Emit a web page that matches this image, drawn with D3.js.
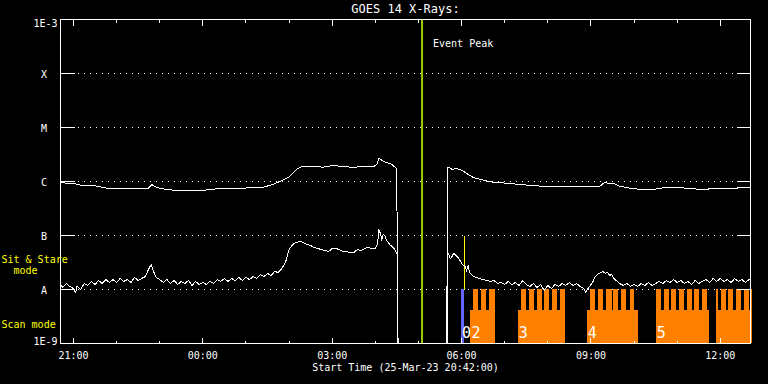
<!DOCTYPE html>
<html><head><meta charset="utf-8">
<script src="https://cdn.jsdelivr.net/npm/d3@7"></script>
<style>html,body{margin:0;padding:0;background:#000;} svg{display:block}</style>
</head><body><svg id="c" width="768" height="384"></svg>
<script>
// ---------------- data ----------------
const chartTitle = "GOES 14 X-Rays:";
const xAxisTitle = "Start Time (25-Mar-23 20:42:00)";
const startTime = "20:42", endTime = "12:42";   // 25-Mar-23 20:42 -> 26-Mar-23 12:42 UT
const yTickValues = [1e-9, 1e-8, 1e-7, 1e-6, 1e-5, 1e-4, 1e-3];
const yTickLabels = ["1E-9", "A", "B", "C", "M", "X", "1E-3"];
const xMajorTicks = ["21:00", "00:00", "03:00", "06:00", "09:00", "12:00"];

// GOES long channel (1-8 A), flux in units of 1e-6 W/m^2
const longUnit = 1e-6;
const longTimes = ["20:42","21:02","21:13","21:30","21:41","21:47","22:26","22:44","22:49","22:56",
  "23:10","23:26","23:46","00:10","00:20","00:52","01:24","01:38","01:47","02:01",
  "02:11","02:18","02:33","02:47","03:01","03:15","03:29","03:43","03:58","04:02",
  "04:05","04:12","04:23","04:26","04:30","04:31","05:40","05:41","05:43","05:47",
  "05:51","05:58","06:05","06:16","06:30","06:44","07:03","07:21","07:39","08:03",
  "08:35","09:12","09:19","09:26","09:31","09:40","09:54","10:12","10:26","10:40",
  "10:59","11:13","11:36","11:50","12:23","12:24","12:41"];
const longFlux = [0.95,0.91,0.84,0.83,0.78,0.75,0.73,0.74,0.88,0.77,
  0.71,0.68,0.68,0.70,0.74,0.75,0.78,0.89,1.00,1.24,
  1.69,1.90,1.92,1.84,1.98,1.90,1.82,1.92,1.90,2.07,
  2.67,2.35,2.07,1.90,1.74,0.0001,0.0001,1.79,1.82,1.67,
  1.74,1.67,1.47,1.19,1.06,0.97,0.93,0.88,0.84,0.80,
  0.80,0.81,0.96,0.92,0.93,0.82,0.75,0.71,0.71,0.76,
  0.78,0.75,0.71,0.74,0.74,0.77,0.77];

// GOES short channel (0.5-4 A), flux in units of 1e-8 W/m^2
const shortUnit = 1e-8;
const shortTimes = [
  "20:42","20:45","20:50","20:55","21:00","21:03","21:05","21:10","21:15","21:20",
  "21:25","21:30","21:35","21:40","21:45","21:50","21:55","22:00","22:05","22:10",
  "22:15","22:20","22:25","22:30","22:35","22:40","22:43","22:48","22:52","22:55",
  "23:00","23:05","23:10","23:15","23:20","23:25","23:30","23:35","23:40","23:45",
  "23:50","23:55","00:00","00:05","00:10","00:15","00:20","00:25","00:30","00:35",
  "00:40","00:45","00:50","00:55","01:00","01:05","01:10","01:15","01:20","01:25",
  "01:30","01:35","01:40","01:45","01:50","01:55","02:00","02:05","02:10","02:15",
  "02:20","02:25","02:30","02:35","02:40","02:45","02:50","02:55","03:00","03:05",
  "03:10","03:15","03:20","03:25","03:30","03:35","03:40","03:45","03:50","03:55",
  "04:00","04:03","04:05","04:07","04:09","04:11","04:13","04:16","04:20","04:25",
  "04:28","04:30","04:31","04:32","05:39","05:40","05:42","05:44","05:46","05:48",
  "05:50","05:52","05:55","05:58","06:00","06:03","06:05","06:07","06:09","06:11",
  "06:15","06:20","06:25","06:30","06:35","06:40","06:45","06:50","06:55","07:00",
  "07:05","07:10","07:15","07:20","07:25","07:30","07:35","07:40","07:45","07:50",
  "07:55","08:00","08:05","08:10","08:15","08:20","08:25","08:30","08:35","08:40",
  "08:45","08:50","08:53","08:55","09:00","09:03","09:05","09:08","09:11","09:14",
  "09:17","09:20","09:23","09:26","09:29","09:32","09:35","09:40","09:45","09:50",
  "09:55","10:00","10:05","10:10","10:15","10:20","10:25","10:30","10:35","10:40",
  "10:45","10:50","10:55","11:00","11:05","11:10","11:15","11:20","11:25","11:30",
  "11:35","11:40","11:45","11:50","11:55","12:00","12:05","12:10","12:15","12:20",
  "12:25","12:30","12:35","12:40","12:42"];
const shortFlux = [
  1.24,1.09,1.29,1.14,1.04,0.88,1.14,1.00,1.29,1.19,
  1.41,1.24,1.47,1.29,1.53,1.35,1.53,1.35,1.60,1.41,
  1.53,1.35,1.67,1.47,1.60,1.74,2.15,2.90,2.07,1.67,
  1.53,1.35,1.53,1.29,1.47,1.24,1.41,1.29,1.47,1.19,
  1.41,1.24,1.35,1.24,1.41,1.29,1.53,1.41,1.60,1.41,
  1.60,1.47,1.67,1.47,1.67,1.53,1.74,1.60,1.90,1.74,
  1.98,1.82,2.15,2.07,2.45,3.16,5.50,6.81,7.41,7.74,
  7.41,6.81,6.52,5.99,5.74,5.50,5.27,5.05,5.74,5.74,
  5.50,5.05,5.05,4.84,4.84,5.50,5.27,5.74,5.99,5.74,
  5.74,6.81,12.9,10.9,8.43,10.4,10.0,8.08,6.81,5.99,
  5.27,4.64,4.08,0.01,0.01,4.84,4.64,3.75,3.92,4.45,
  4.64,4.26,3.92,3.44,3.03,2.78,2.67,2.25,2.78,2.07,
  1.82,1.67,1.60,1.53,1.47,1.41,1.47,1.29,1.35,1.24,
  1.41,1.24,1.35,1.19,1.47,1.24,1.14,1.29,1.09,1.24,
  0.96,1.19,1.04,1.24,1.14,1.29,1.19,1.35,1.19,1.29,
  1.14,1.04,0.88,1.00,1.24,1.41,1.67,1.82,1.98,2.07,
  2.15,1.98,2.07,1.82,1.90,1.60,1.47,1.29,1.19,1.29,
  1.14,1.24,1.14,1.29,1.19,1.35,1.19,1.29,1.41,1.29,
  1.47,1.35,1.53,1.35,1.47,1.29,1.41,1.24,1.47,1.29,
  1.41,1.53,1.35,1.60,1.41,1.60,1.41,1.53,1.35,1.60,
  1.41,1.53,1.35,1.53,1.47];

// event markers
const eventPeakTime = "05:05";
const eventPeakLabel = "Event Peak";
const flareMarkTime = "06:04";             // short yellow marker, from B to A level
const flareMarkRange = [1e-7, 1e-8];

// observation windows
const blueObs = ["06:00", "06:04"];
const scanBlocks = [["06:13","06:47"],["07:19","08:24"],["08:55","10:06"],["10:31","11:45"],["11:54","12:45"]];
const stareBlocks = [
  ["06:17","06:24"],["06:28","06:35"],["06:39","06:47"],
  ["07:23","07:30"],["07:34","07:41"],["07:45","07:52"],["07:56","08:03"],["08:07","08:13"],["08:17","08:24"],
  ["09:00","09:07"],["09:11","09:18"],["09:22","09:30"],["09:32","09:39"],["09:43","09:50"],["09:55","10:00"],
  ["10:31","10:38"],["10:42","10:49"],["10:52","10:59"],["11:03","11:10"],["11:14","11:21"],["11:24","11:31"],["11:35","11:42"],
  ["11:54","11:57"],["12:01","12:08"],["12:12","12:19"],["12:23","12:30"],["12:33","12:40"],["12:42","12:45"]];
const obsLabelTexts = ["0", "2", "3", "4", "5"];
const obsLabelTimes = ["06:00", "06:13", "07:19", "08:55", "10:31"];
const modeLabels = ["Sit & Stare", "mode", "Scan mode"];
const stareTopFlux = 1e-8, scanTopFlux = 4.1e-9;

// ---------------- drawing ----------------
function toDate(hm) {
  const [h, m] = hm.split(":").map(Number);
  return new Date(Date.UTC(2023, 2, h >= 20 ? 25 : 26, h, m));
}
const svg = d3.select("#c");
svg.append("rect").attr("width", 768).attr("height", 384).attr("fill", "#000");

const L = 60.5, R = 750.5, T = 19.5, B = 343.5;
const x = d3.scaleUtc().domain([toDate(startTime), toDate(endTime)]).range([L, R]);
const y = d3.scaleLog().domain([1e-9, 1e-3]).range([B, T]);
const FONT = "'DejaVu Sans Mono', monospace";
const WHITE = "#fff", YELLOW = "#ffff00", ORANGE = "#ff8000", BLUE = "#6464ff", GREEN = "#99cc00";

// dotted grid lines
const grid = svg.append("g");
yTickValues.slice(1, -1).forEach(v => {
  grid.append("line").attr("x1", L + 17.5).attr("x2", R - 14).attr("y1", y(v)).attr("y2", y(v))
    .attr("stroke", WHITE).attr("stroke-dasharray", "1 5").attr("shape-rendering", "crispEdges");
});

// observation bars
const bars = svg.append("g").attr("shape-rendering", "crispEdges");
bars.selectAll("rect.scan").data(scanBlocks).join("rect")
  .attr("x", d => x(toDate(d[0])) - 0.5).attr("width", d => x(toDate(d[1])) - x(toDate(d[0])))
  .attr("y", y(scanTopFlux) - 0.5).attr("height", B - y(scanTopFlux)).attr("fill", ORANGE);
bars.selectAll("rect.stare").data(stareBlocks).join("rect")
  .attr("x", d => x(toDate(d[0])) - 0.5).attr("width", d => x(toDate(d[1])) - x(toDate(d[0])))
  .attr("y", y(stareTopFlux) - 0.5).attr("height", B - y(stareTopFlux)).attr("fill", ORANGE);
bars.append("rect")
  .attr("x", x(toDate(blueObs[0])) - 0.5).attr("width", x(toDate(blueObs[1])) - x(toDate(blueObs[0])))
  .attr("y", y(stareTopFlux) - 0.5).attr("height", B - y(stareTopFlux)).attr("fill", BLUE);

// event peak + flare marker
svg.append("line").attr("x1", x(toDate(eventPeakTime))).attr("x2", x(toDate(eventPeakTime)))
  .attr("y1", T).attr("y2", B).attr("stroke", GREEN).attr("stroke-width", 2);
svg.append("line").attr("x1", x(toDate(flareMarkTime))).attr("x2", x(toDate(flareMarkTime)))
  .attr("y1", y(flareMarkRange[0])).attr("y2", y(flareMarkRange[1])).attr("stroke", YELLOW)
  .attr("shape-rendering", "crispEdges");
svg.append("text").attr("x", x(toDate(eventPeakTime)) + 11).attr("y", 46.7)
  .attr("fill", WHITE).attr("font-family", FONT).attr("font-size", 10).text(eventPeakLabel);

// curves
const clip = svg.append("clipPath").attr("id", "plotclip");
clip.append("rect").attr("x", L).attr("y", T).attr("width", R - L).attr("height", B - T);
const line = d3.line().x(d => x(d[0])).y(d => y(d[1]));
const longData = longTimes.map((t, i) => [toDate(t), longFlux[i] * longUnit]);
const shortData = shortTimes.map((t, i) => [toDate(t), shortFlux[i] * shortUnit]);
const curves = svg.append("g").attr("clip-path", "url(#plotclip)");
[longData, shortData].forEach(d => {
  curves.append("path").datum(d).attr("d", line).attr("fill", "none")
    .attr("stroke", WHITE).attr("stroke-width", 1).attr("shape-rendering", "crispEdges");
});

// observation labels
svg.selectAll("text.obs").data(obsLabelTexts).join("text")
  .attr("x", (d, i) => x(toDate(obsLabelTimes[i])) + 0.5).attr("y", 338)
  .attr("fill", WHITE).attr("font-family", FONT).attr("font-size", 15).text(d => d);

// frame and ticks
const frame = svg.append("g").attr("stroke", WHITE).attr("shape-rendering", "crispEdges");
frame.append("rect").attr("x", L).attr("y", T).attr("width", R - L).attr("height", B - T).attr("fill", "none");
yTickValues.forEach(v => {
  frame.append("line").attr("x1", L).attr("x2", L + 14).attr("y1", y(v)).attr("y2", y(v));
  frame.append("line").attr("x1", R - 14).attr("x2", R).attr("y1", y(v)).attr("y2", y(v));
});
const majorSet = new Set(xMajorTicks.map(t => +toDate(t)));
d3.utcHour.range(toDate(startTime), toDate(endTime)).forEach(t => {
  const len = majorSet.has(+t) ? 6 : 3;
  const xx = Math.round(x(t) - 0.5) + 0.5;
  frame.append("line").attr("x1", xx).attr("x2", xx).attr("y1", T).attr("y2", T + len);
  frame.append("line").attr("x1", xx).attr("x2", xx).attr("y1", B).attr("y2", B - len);
});

// texts
const txt = svg.append("g").attr("font-family", FONT).attr("fill", WHITE);
txt.append("text").attr("x", (L + R) / 2).attr("y", 12.5).attr("text-anchor", "middle")
  .attr("font-size", 12).text(chartTitle);
txt.append("text").attr("x", (L + R) / 2).attr("y", 370.7).attr("text-anchor", "middle")
  .attr("font-size", 10).text(xAxisTitle);
xMajorTicks.forEach(t => {
  txt.append("text").attr("x", x(toDate(t))).attr("y", 358.7).attr("text-anchor", "middle")
    .attr("font-size", 10).text(t);
});
yTickValues.forEach((v, i) => {
  const lab = yTickLabels[i];
  const isNum = lab.length > 1;
  const dy = i === 0 ? 1 : (i === yTickValues.length - 1 ? 7.5 : 4.5);
  txt.append("text").attr("x", isNum ? 57.5 : 44).attr("y", y(v) + dy)
    .attr("text-anchor", isNum ? "end" : "middle").attr("font-size", 10).text(lab);
});
const ytxt = svg.append("g").attr("font-family", FONT).attr("fill", YELLOW).attr("font-size", 10);
ytxt.append("text").attr("x", 1.5).attr("y", 263.3).text(modeLabels[0]);
ytxt.append("text").attr("x", 13.5).attr("y", 274.3).text(modeLabels[1]);
ytxt.append("text").attr("x", 1.5).attr("y", 327.7).text(modeLabels[2]);
</script></body></html>
